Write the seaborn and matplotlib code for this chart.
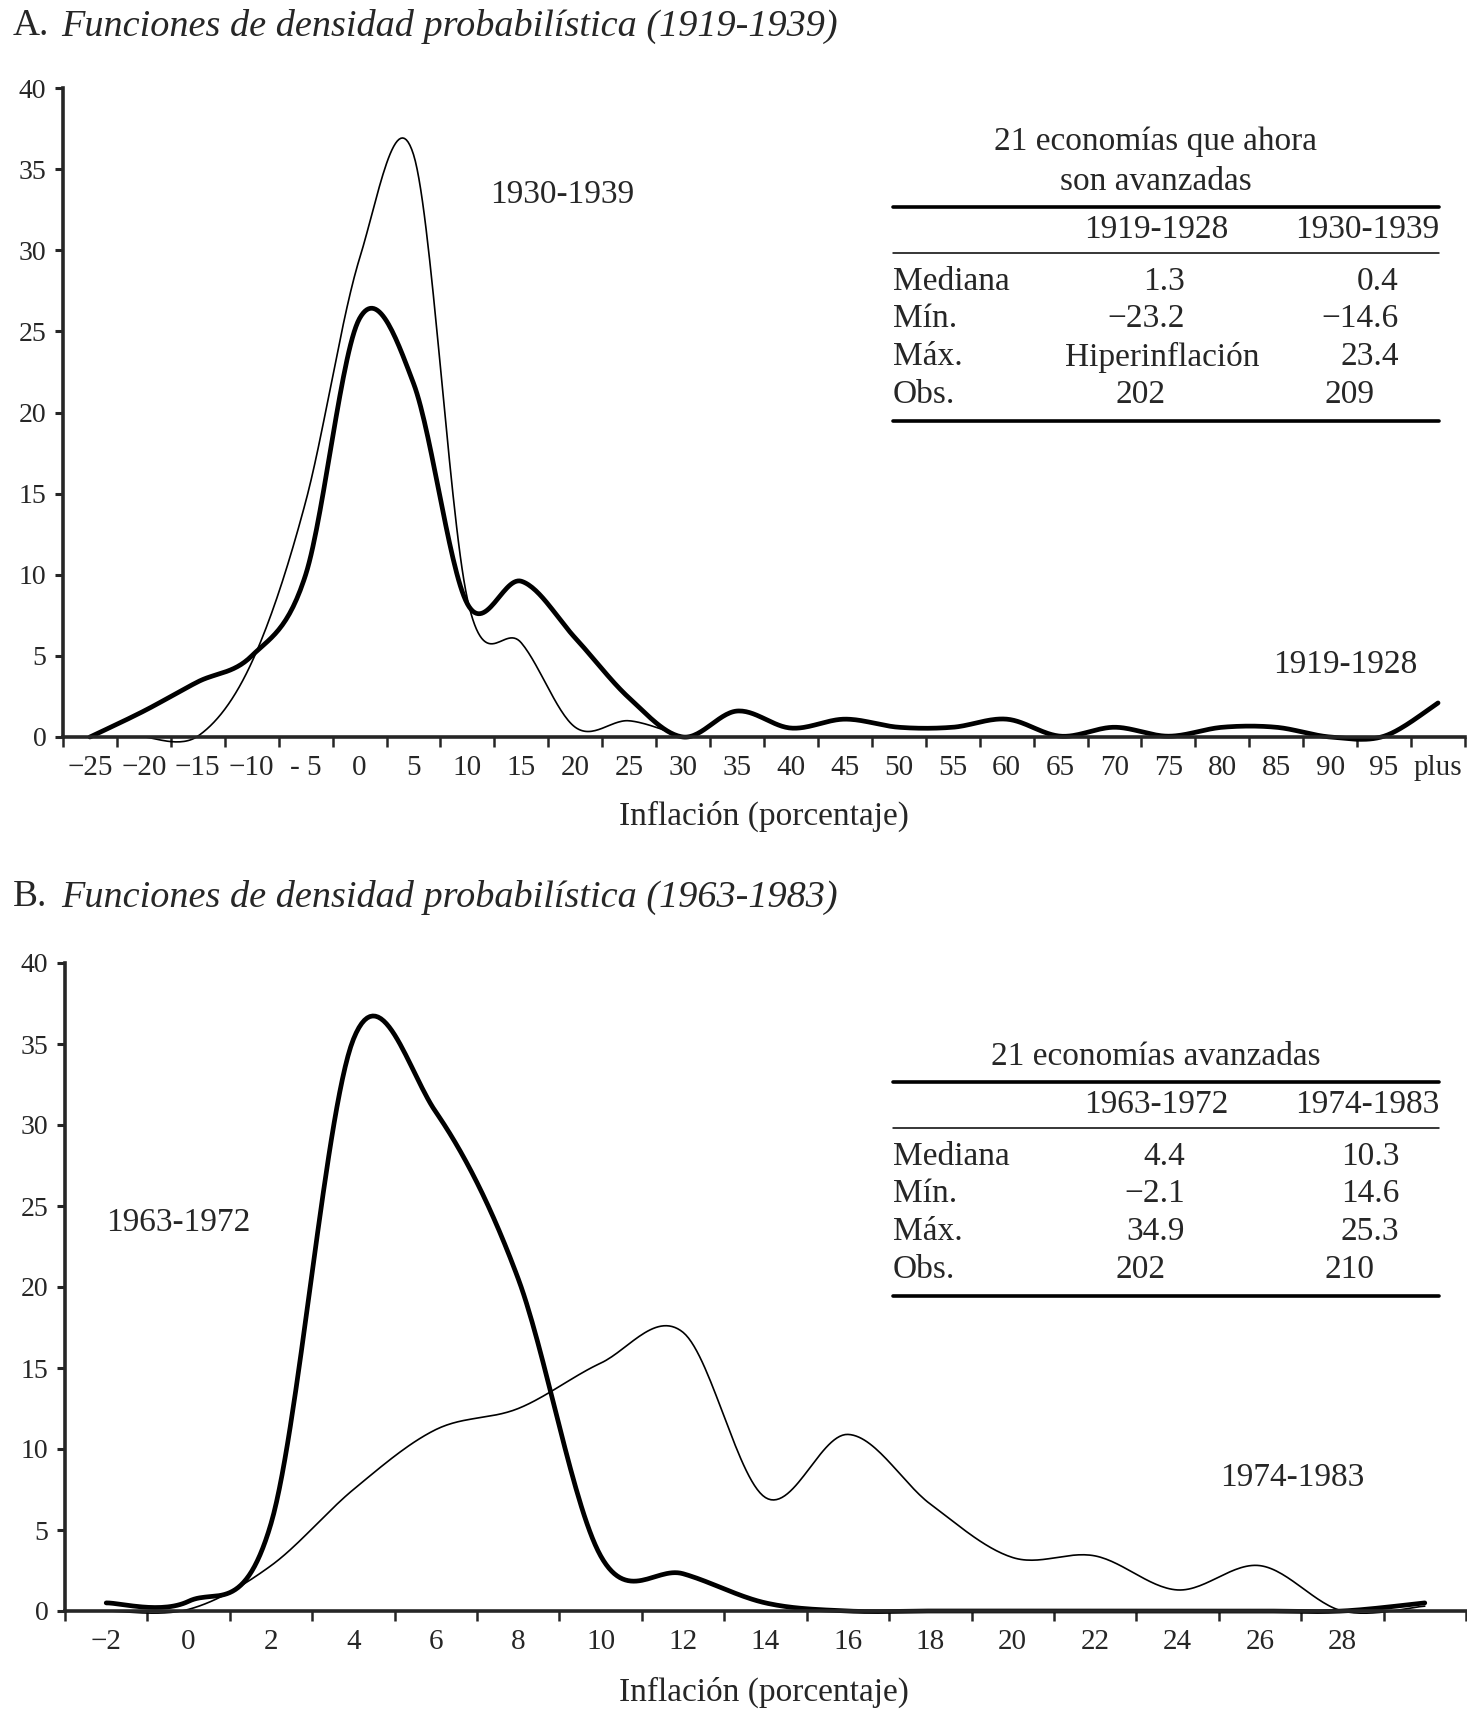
import numpy as np
import pandas as pd
import matplotlib
matplotlib.use("Agg")
import matplotlib.pyplot as plt
from matplotlib.lines import Line2D
import seaborn as sns

# ---- data ----
# panel A: 1919-1939, categories of 5 points ("plus" = 100)
a_x = [-25, -20, -15, -10, -5, 0, 5, 10, 15, 20, 25, 30, 35, 40, 45, 50,
       55, 60, 65, 70, 75, 80, 85, 90, 95, 100]
a_labels = ["\u221225", "\u221220", "\u221215", "\u221210", "- 5", "0", "5", "10",
            "15", "20", "25", "30", "35", "40", "45", "50", "55", "60", "65",
            "70", "75", "80", "85", "90", "95", "plus"]
a_1919 = [0, 1.6, 3.4, 5.0, 10.0, 25.8, 21.8, 8.2, 9.6, 6.1, 2.4, 0.0, 1.6,
          0.55, 1.1, 0.6, 0.6, 1.1, 0.05, 0.6, 0.05, 0.6, 0.6, 0.0, 0.05, 2.1]
a_1930_x = [-20, -15, -10, -5, 0, 5, 10, 15, 20, 25, 30]
a_1930 = [0, 0.05, 4.6, 14.5, 29.5, 35.9, 8.5, 5.8, 0.6, 1.0, 0.0]

# panel B: 1963-1983, categories of 2 points (last one unlabelled)
b_x = list(range(-2, 31, 2))
b_ticks = list(range(-2, 29, 2))
b_labels = ["\u22122"] + [str(v) for v in range(0, 29, 2)]
b_1963 = [0.5, 0.6, 5.4, 35.3, 30.8, 20.5, 3.4, 2.3, 0.5, 0.0, 0.0, 0.0,
          0.0, 0.0, 0.0, 0.0, 0.5]
b_1974 = [0.0, 0.1, 2.8, 7.5, 11.2, 12.5, 15.3, 17.2, 7.0, 10.9, 6.6, 3.3,
          3.4, 1.3, 2.8, 0.0, 0.3]

# summary tables
tab_rows = ["Mediana", "M\u00edn.", "M\u00e1x.", "Obs."]
tab_a_head = ["1919-1928", "1930-1939"]
tab_a_c1 = ["1.3", "\u221223.2", "Hiperinflaci\u00f3n", "202"]
tab_a_c2 = ["0.4", "\u221214.6", "23.4", "209"]
tab_b_head = ["1963-1972", "1974-1983"]
tab_b_c1 = ["4.4", "\u22122.1", "34.9", "202"]
tab_b_c2 = ["10.3", "14.6", "25.3", "210"]


def smooth(x, y, n=30):
    # excel-like smoothed line (catmull-rom through the points)
    x = np.asarray(x, float)
    y = np.asarray(y, float)
    px = np.r_[x[0], x, x[-1]]
    py = np.r_[y[0], y, y[-1]]
    t = np.linspace(0, 1, n, endpoint=False)
    h00 = 2 * t**3 - 3 * t**2 + 1
    h10 = t**3 - 2 * t**2 + t
    h01 = -2 * t**3 + 3 * t**2
    h11 = t**3 - t**2
    xs, ys = [], []
    for i in range(1, len(px) - 2):
        for arr, out in ((px, xs), (py, ys)):
            p0, p1, p2, p3 = arr[i - 1:i + 3]
            out.append(h00 * p1 + h10 * (p2 - p0) / 2 + h01 * p2 + h11 * (p3 - p1) / 2)
    xs.append([x[-1]])
    ys.append([y[-1]])
    return pd.DataFrame({"x": np.concatenate(xs), "y": np.concatenate(ys)})


sns.set_style("ticks")
plt.rcParams["font.family"] = ["Liberation Serif", "DejaVu Serif"]

W, H = 1467, 1718
fig = plt.figure(figsize=(W / 100, H / 100), dpi=100)


def fx(p):
    return p / W


def fy(p):
    return 1 - p / H


def style_axis(ax):
    sns.despine(ax=ax)
    ax.spines["left"].set_linewidth(2.6)
    ax.spines["bottom"].set_linewidth(2.6)
    ax.set_ylim(0, 40)
    ax.set_yticks(range(0, 41, 5))
    ax.tick_params(axis="y", direction="out", length=6, width=2.2,
                   labelsize=20, pad=6)
    ax.tick_params(axis="x", which="major", length=0, labelsize=21, pad=13)
    ax.tick_params(axis="x", which="minor", direction="out", length=7, width=1.8)
    ax.set_xlabel("")
    ax.set_ylabel("")
    for l in ax.lines:
        l.set_clip_on(False)


# ---- panel A ----
axA = fig.add_axes([fx(63), fy(737), fx(1465 - 63), 649 / H])
sns.lineplot(data=smooth(a_x, a_1919), x="x", y="y", ax=axA, color="black",
             linewidth=3.4, estimator=None, sort=False)
sns.lineplot(data=smooth(a_1930_x, a_1930), x="x", y="y", ax=axA, color="black",
             linewidth=1.2, estimator=None, sort=False)
axA.set_xlim(-27.5, 102.5)
axA.set_xticks(a_x)
axA.set_xticklabels(a_labels)
axA.set_xticks(np.arange(-27.5, 103, 5), minor=True)
style_axis(axA)

# ---- panel B ----
axB = fig.add_axes([fx(65), fy(1611), fx(1466 - 65), 648 / H])
sns.lineplot(data=smooth(b_x, b_1963), x="x", y="y", ax=axB, color="black",
             linewidth=3.4, estimator=None, sort=False)
sns.lineplot(data=smooth(b_x, b_1974), x="x", y="y", ax=axB, color="black",
             linewidth=1.2, estimator=None, sort=False)
axB.set_xlim(-3, 31)
axB.set_xticks(b_ticks)
axB.set_xticklabels(b_labels)
axB.set_xticks(np.arange(-3, 32, 2), minor=True)
style_axis(axB)

# ---- titles and labels ----
fs = 24
for y0, letter, text in [(26, "A.", "Funciones de densidad probabil\u00edstica (1919-1939)"),
                         (897, "B.", "Funciones de densidad probabil\u00edstica (1963-1983)")]:
    fig.text(fx(13), fy(y0), letter, fontsize=27, va="center", ha="left")
    fig.text(fx(61), fy(y0), text, fontsize=27.5, style="italic", va="center", ha="left")

fig.text(fx(764), fy(816), "Inflaci\u00f3n (porcentaje)", fontsize=fs, ha="center", va="center")
fig.text(fx(764), fy(1692), "Inflaci\u00f3n (porcentaje)", fontsize=fs, ha="center", va="center")

fig.text(fx(562), fy(195), "1930-1939", fontsize=fs, ha="center", va="center")
fig.text(fx(1345), fy(665), "1919-1928", fontsize=fs, ha="center", va="center")
fig.text(fx(178), fy(1223), "1963-1972", fontsize=fs, ha="center", va="center")
fig.text(fx(1292), fy(1478), "1974-1983", fontsize=fs, ha="center", va="center")


def hline(y, lw):
    fig.add_artist(Line2D([fx(893), fx(1439)], [fy(y), fy(y)], color="black", linewidth=lw))


def table(title_lines, top, head, c1, c2):
    for i, t in enumerate(title_lines):
        fig.text(fx(1156), fy(top + 40 * i), t, fontsize=fs, ha="center", va="center")
    y = top + 40 * (len(title_lines) - 1)
    hline(y + 25, 2.6)
    fig.text(fx(1156), fy(y + 48), head[0], fontsize=fs, ha="center", va="center")
    fig.text(fx(1439), fy(y + 48), head[1], fontsize=fs, ha="right", va="center")
    hline(y + 71, 1.1)
    rows_y = [y + 100, y + 137, y + 175, y + 213]
    for i, ry in enumerate(rows_y):
        fig.text(fx(893), fy(ry), tab_rows[i], fontsize=fs, ha="left", va="center")
        for val, right, mid in [(c1[i], 1185, 1141), (c2[i], 1399, 1350)]:
            if i == 3:
                fig.text(fx(mid), fy(ry), val, fontsize=fs, ha="center", va="center")
            elif val.startswith("Hiper"):
                fig.text(fx(1162), fy(ry), val, fontsize=fs, ha="center", va="center")
            else:
                fig.text(fx(right), fy(ry), val, fontsize=fs, ha="right", va="center")
    hline(y + 239, 2.6)


table(["21 econom\u00edas que ahora", "son avanzadas"], 142, tab_a_head, tab_a_c1, tab_a_c2)
table(["21 econom\u00edas avanzadas"], 1057, tab_b_head, tab_b_c1, tab_b_c2)

fig.savefig("out.png", dpi=100)
